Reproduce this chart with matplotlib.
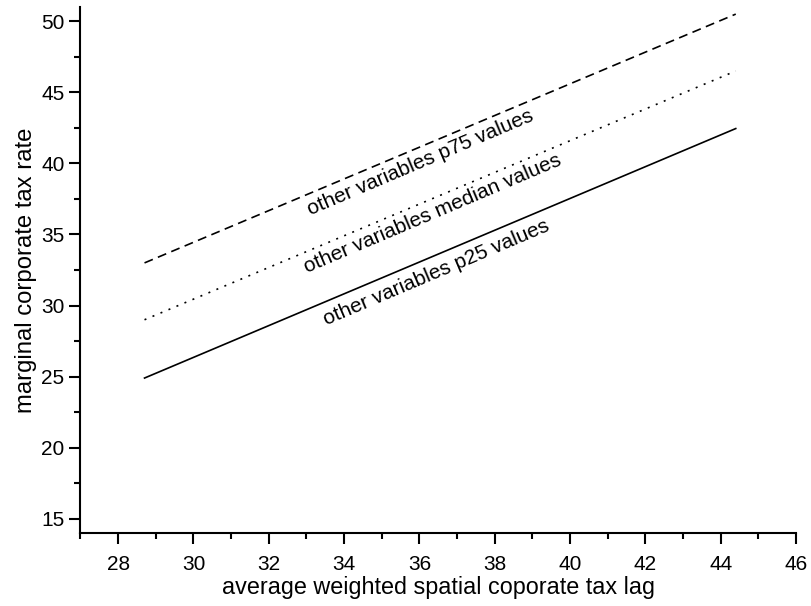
import matplotlib
matplotlib.use("Agg")
import matplotlib.pyplot as plt
from matplotlib.ticker import MultipleLocator

plt.rcParams["font.family"] = ["Liberation Sans", "DejaVu Sans"]

# fitted lines (two end points each)
tax_lag = [28.7, 44.4]
rate_p25 = [24.9, 42.45]
rate_median = [29.0, 46.5]
rate_p75 = [33.0, 50.5]

labels = ["other variables p75 values", "other variables median values", "other variables p25 values"]
label_x = [36.02, 36.34, 36.45]
label_y = [40.06, 36.46, 32.3]


def main():
    fig = plt.figure(figsize=(8.12, 6.06), dpi=100)
    ax = fig.add_axes([80.5 / 812, 1 - 533 / 606, (796 - 80.5) / 812, (533 - 7) / 606])

    ax.plot(tax_lag, rate_p75, color="black", lw=1.2, linestyle=(0, (5.4, 3.3)))
    ax.plot(tax_lag, rate_median, color="black", lw=1.2, linestyle=(0, (1.2, 4)))
    ax.plot(tax_lag, rate_p25, color="black", lw=1.2, linestyle="-")

    for txt, x, y in zip(labels, label_x, label_y):
        ax.text(x, y, txt, rotation=23, ha="center", va="center", fontsize=15)

    ax.set_xlim(27, 46)
    ax.set_ylim(14, 51)
    ax.xaxis.set_minor_locator(MultipleLocator(1))
    ax.yaxis.set_minor_locator(MultipleLocator(2.5))
    ax.set_xticks([28, 30, 32, 34, 36, 38, 40, 42, 44, 46])
    ax.set_yticks([15, 20, 25, 30, 35, 40, 45, 50])

    for side in ["top", "right"]:
        ax.spines[side].set_visible(False)
    for side in ["left", "bottom"]:
        ax.spines[side].set_linewidth(1.5)

    ax.tick_params(which="major", direction="out", length=8, width=1.5, labelsize=15)
    ax.tick_params(axis="x", which="major", pad=7.5)
    ax.tick_params(which="minor", direction="out", length=4, width=1.5)

    ax.set_xlabel("average weighted spatial coporate tax lag", fontsize=16.8, labelpad=2)
    ax.set_ylabel("marginal corporate tax rate", fontsize=17.2, labelpad=3)

    fig.savefig("out.png", dpi=100)
    plt.close(fig)


if __name__ == "__main__":
    main()
